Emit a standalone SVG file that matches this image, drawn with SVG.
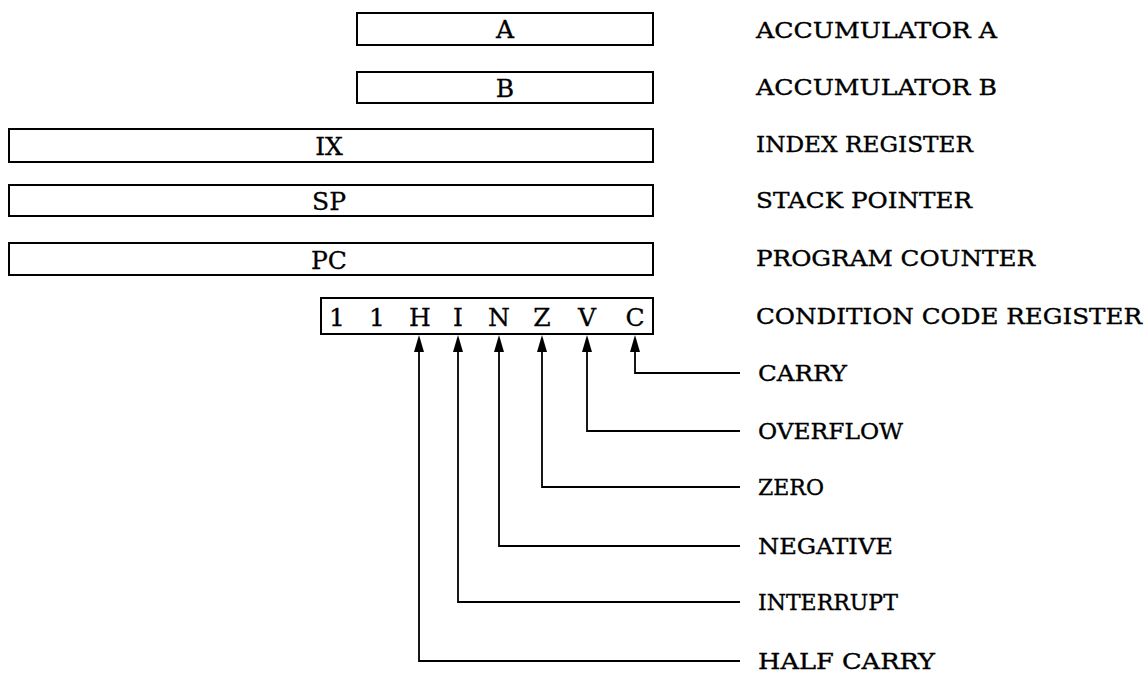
<svg xmlns="http://www.w3.org/2000/svg" width="1146" height="673" viewBox="0 0 1146 673">
<style>
.box{fill:#fff;stroke:#000;stroke-width:2}
.bt{font-family:"DejaVu Serif","Liberation Serif",serif;font-size:25px;fill:#000;stroke:#000;stroke-width:0.3;text-anchor:middle}
.lb{font-family:"DejaVu Serif","Liberation Serif",serif;font-size:22px;fill:#000;stroke:#000;stroke-width:0.35}
.cn{fill:none;stroke:#000;stroke-width:1.8}
</style>
<rect width="1146" height="673" fill="#fff"/>
<g id="regA"><rect class="box" x="357" y="13" width="296" height="32"/><text class="bt" x="505" y="38">A</text></g>
<g id="regB"><rect class="box" x="357" y="72" width="296" height="31"/><text class="bt" x="505" y="97">B</text></g>
<g id="regIX"><rect class="box" x="9" y="129" width="644" height="33"/><text class="bt" x="329" y="155">IX</text></g>
<g id="regSP"><rect class="box" x="9" y="185" width="644" height="31"/><text class="bt" x="329" y="210">SP</text></g>
<g id="regPC"><rect class="box" x="9" y="243" width="644" height="32"/><text class="bt" x="329" y="269">PC</text></g>
<g id="regCCR"><rect class="box" x="321" y="298" width="332" height="36"/>
<text class="bt" x="337" y="326">1</text><text class="bt" x="377" y="326">1</text><text class="bt" x="420" y="326">H</text><text class="bt" x="458" y="326">I</text><text class="bt" x="499" y="326">N</text><text class="bt" x="542" y="326">Z</text><text class="bt" x="587" y="326">V</text><text class="bt" x="635" y="326">C</text></g>
<g id="labels">
<text class="lb" x="756" y="38" textLength="241" lengthAdjust="spacingAndGlyphs">ACCUMULATOR A</text>
<text class="lb" x="756" y="95" textLength="241" lengthAdjust="spacingAndGlyphs">ACCUMULATOR B</text>
<text class="lb" x="756" y="152" textLength="217" lengthAdjust="spacingAndGlyphs">INDEX REGISTER</text>
<text class="lb" x="756" y="208" textLength="216" lengthAdjust="spacingAndGlyphs">STACK POINTER</text>
<text class="lb" x="756" y="266" textLength="279" lengthAdjust="spacingAndGlyphs">PROGRAM COUNTER</text>
<text class="lb" x="756" y="324" textLength="386" lengthAdjust="spacingAndGlyphs">CONDITION CODE REGISTER</text>
<text class="lb" x="758" y="381" textLength="89" lengthAdjust="spacingAndGlyphs">CARRY</text>
<text class="lb" x="758" y="439" textLength="145" lengthAdjust="spacingAndGlyphs">OVERFLOW</text>
<text class="lb" x="758" y="495">ZERO</text>
<text class="lb" x="758" y="554" textLength="135" lengthAdjust="spacingAndGlyphs">NEGATIVE</text>
<text class="lb" x="758" y="610">INTERRUPT</text>
<text class="lb" x="758" y="669" textLength="177" lengthAdjust="spacingAndGlyphs">HALF CARRY</text>
</g>
<g id="connectors">
<path class="cn" d="M635,350 V373 H740"/>
<path class="cn" d="M587,350 V431 H740"/>
<path class="cn" d="M542,350 V487 H740"/>
<path class="cn" d="M499,350 V546 H740"/>
<path class="cn" d="M458,350 V602 H740"/>
<path class="cn" d="M419,350 V661 H740"/>
<g fill="#000">
<polygon points="635,335 630,352 640,352"/>
<polygon points="587,335 582,352 592,352"/>
<polygon points="542,335 537,352 547,352"/>
<polygon points="499,335 494,352 504,352"/>
<polygon points="458,335 453,352 463,352"/>
<polygon points="419,335 414,352 424,352"/>
</g>
</g>
</svg>
